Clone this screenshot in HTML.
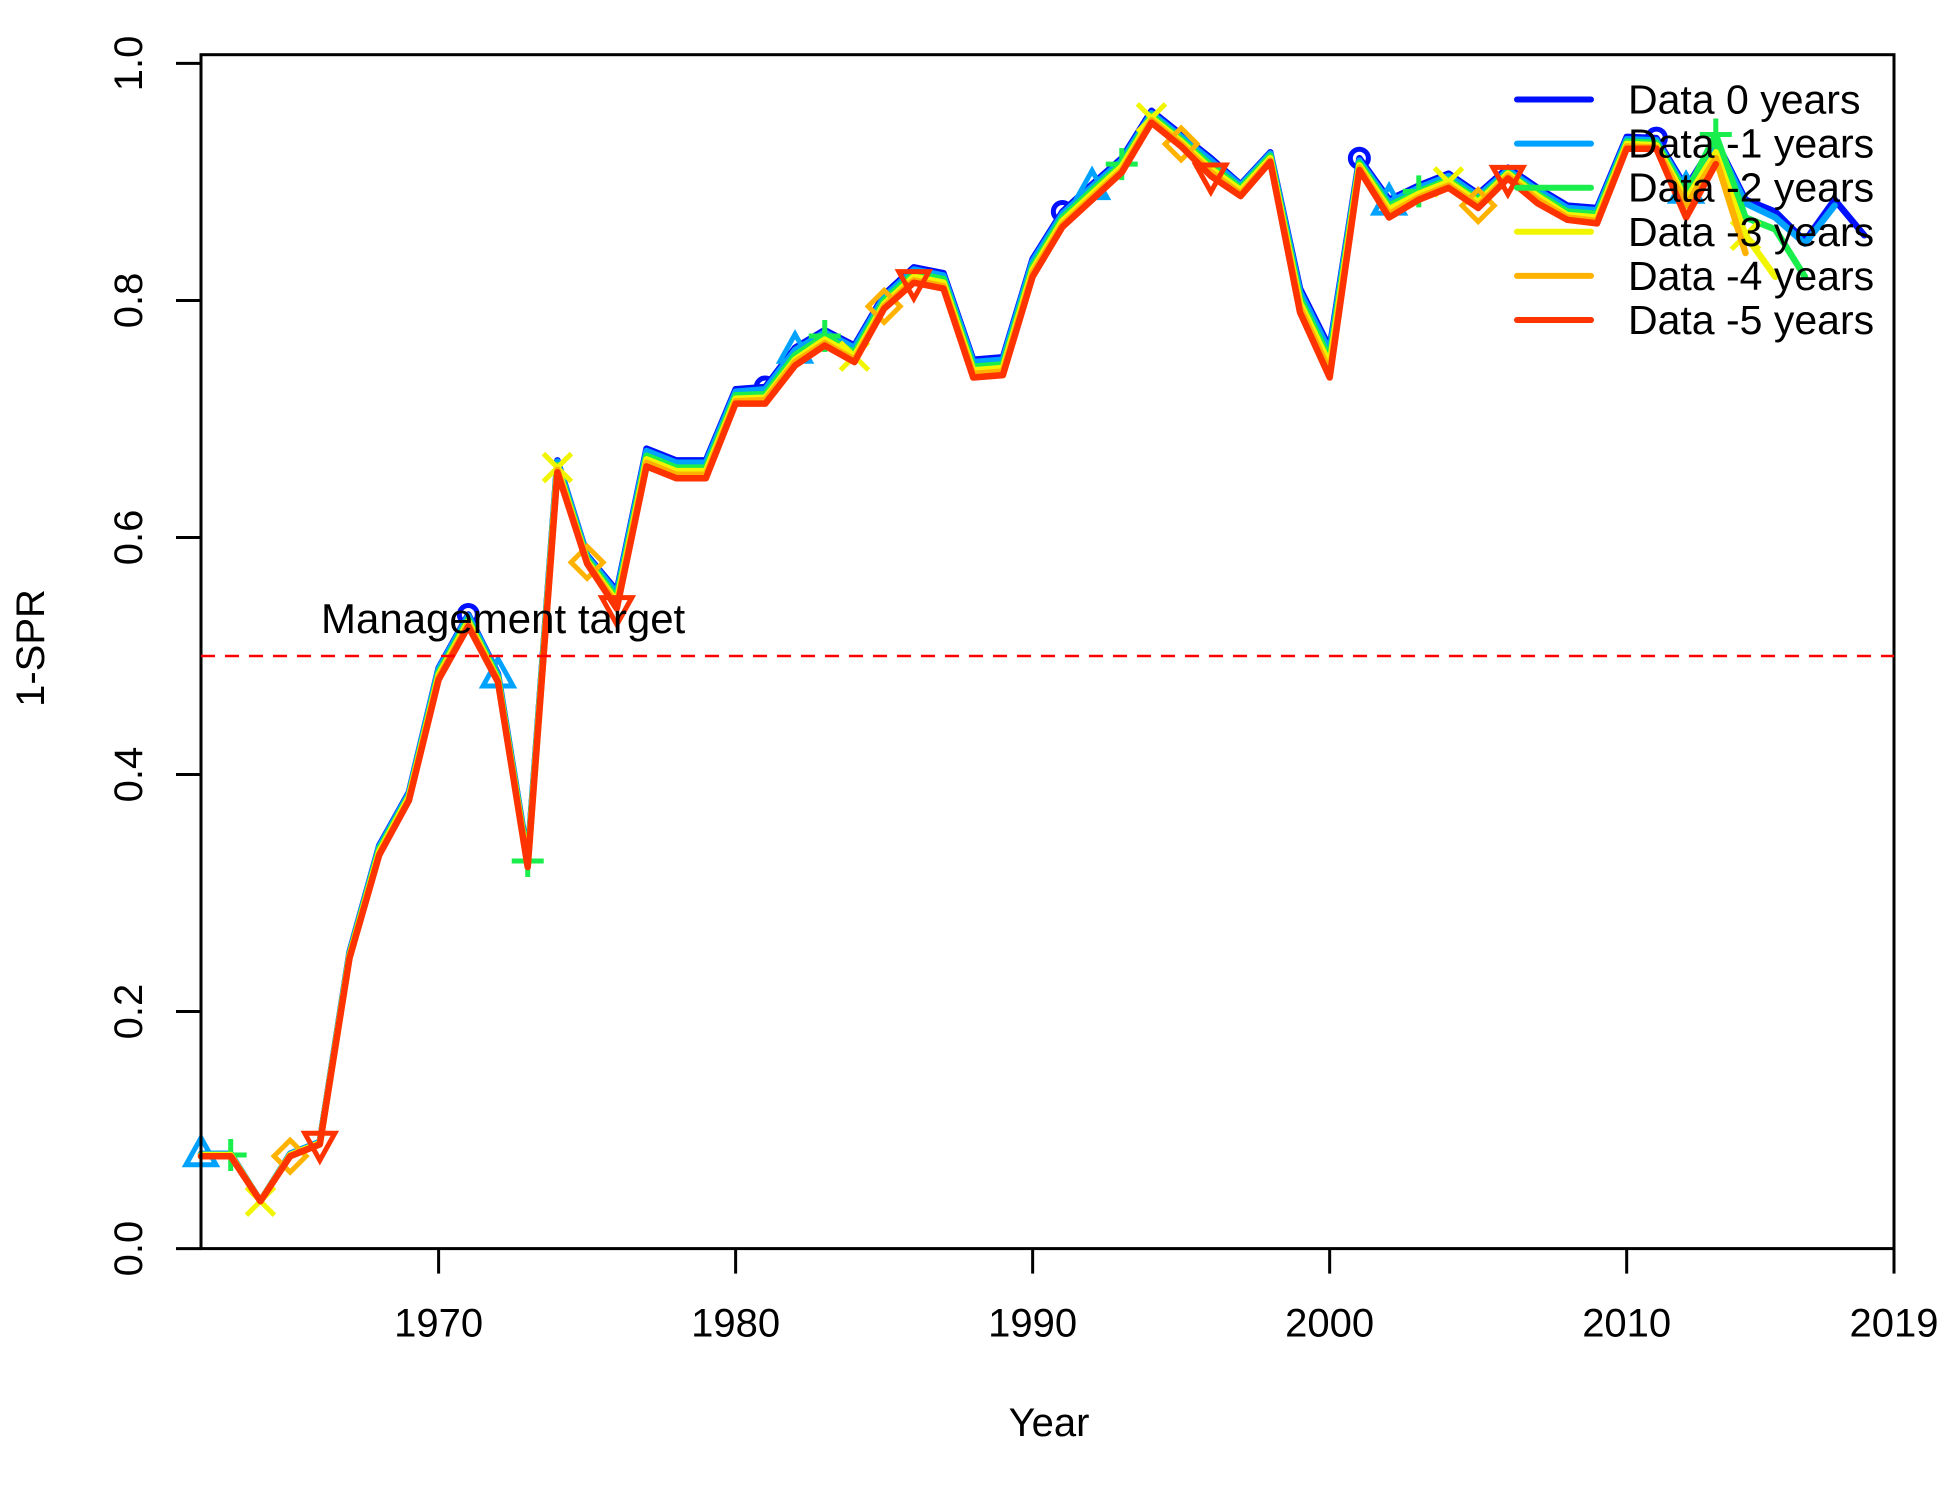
<!DOCTYPE html>
<html><head><meta charset="utf-8"><style>
body{margin:0;background:#fff}
svg text{font-family:"Liberation Sans",sans-serif;fill:#000}
</style></head><body>
<svg id="chart" width="1950" height="1500" viewBox="0 0 1950 1500" xmlns="http://www.w3.org/2000/svg">
<rect x="0" y="0" width="1950" height="1500" fill="#fff"/>
<g id="series"></g>
<rect x="201" y="54.7" width="1693" height="1193.9" fill="none" stroke="#000" stroke-width="3"/>
<g id="axes"></g>
<text x="1049" y="1436" font-size="40" text-anchor="middle">Year</text>
<text transform="translate(44,648) rotate(-90)" font-size="40" text-anchor="middle">1-SPR</text>
<g id="legend"></g>
</svg>
<script>
const startYear = 1962;
const seriesNames = ["Data 0 years","Data -1 years","Data -2 years","Data -3 years","Data -4 years","Data -5 years"];
const seriesColors = ["#0010ff","#00a2ff","#19ee4d","#f2f500","#ffb300","#ff3300"];
const markerTypes = ["circle","triangle","plus","cross","diamond","downtriangle"];
const markerStart = [1971,1962,1963,1964,1965,1966];
const xTicks = [1970,1980,1990,2000,2010,2019];
const yTicks = [0,0.2,0.4,0.6,0.8,1.0];
const yTickLabels = ["0.0","0.2","0.4","0.6","0.8","1.0"];
const targetValue = 0.5;

const data0 = [.080,.080,.040,.080,.090,.250,.340,.385,
 .490,.535,.485,.330,.665,.585,.555,.675,.665,.665,
 .725,.727,.760,.775,.762,.805,.828,.823,.750,.752,
 .835,.875,.898,.920,.960,.940,.920,.898,.925,.810,
 .760,.920,.885,.897,.907,.890,.912,.895,.880,.878,
 .938,.937,.895,.935,.885,.875,.850,.885,.855];
const data1 = [.080,.080,.040,.080,.090,.249,.339,.384,
 .489,.534,.484,.329,.664,.584,.553,.673,.663,.663,
 .723,.725,.758,.773,.760,.803,.826,.821,.748,.750,
 .833,.873,.896,.918,.958,.938,.918,.897,.924,.807,
 .757,.918,.883,.895,.905,.888,.910,.893,.878,.876,
 .936,.935,.893,.934,.882,.870,.848,.880];
const data2 = [.079,.079,.040,.079,.089,.248,.337,.382,
 .486,.531,.482,.327,.661,.582,.549,.669,.659,.659,
 .720,.721,.754,.770,.756,.800,.823,.818,.744,.746,
 .829,.870,.893,.915,.956,.936,.914,.895,.922,.802,
 .751,.916,.880,.892,.902,.885,.908,.890,.875,.873,
 .934,.933,.890,.940,.870,.860,.820];
const data3 = [.079,.079,.040,.079,.089,.247,.335,.381,
 .484,.529,.480,.325,.659,.580,.546,.666,.656,.656,
 .717,.718,.750,.767,.753,.797,.820,.815,.741,.743,
 .826,.867,.890,.913,.954,.934,.911,.893,.920,.798,
 .746,.914,.877,.890,.900,.883,.907,.888,.872,.870,
 .932,.931,.885,.925,.855,.820];
const data4 = [.078,.078,.040,.078,.088,.246,.333,.379,
 .482,.527,.479,.323,.657,.579,.543,.663,.653,.653,
 .715,.716,.748,.764,.750,.795,.817,.812,.738,.740,
 .823,.864,.887,.910,.952,.932,.908,.890,.918,.794,
 .740,.912,.873,.887,.897,.880,.905,.885,.870,.867,
 .930,.929,.880,.920,.840];
const data5 = [.078,.078,.040,.078,.088,.245,.332,.378,
 .480,.525,.478,.322,.655,.578,.540,.660,.650,.650,
 .713,.713,.745,.762,.748,.793,.815,.810,.735,.737,
 .820,.862,.885,.908,.950,.930,.905,.888,.917,.790,
 .735,.910,.870,.885,.895,.878,.903,.882,.868,.865,
 .928,.928,.870,.915];
const allSeries = [data0,data1,data2,data3,data4,data5];

const NS = "http://www.w3.org/2000/svg";
const X0 = 201, X1 = 1894, Y0 = 1248.6, Y1v = 63.4;
function xs(yr){ return X0 + (yr - 1962) / (2019 - 1962) * (X1 - X0); }
function ys(v){ return Y0 - v * (Y0 - Y1v); }
function mk(tag, attrs, parent){ const e = document.createElementNS(NS, tag); for (const k in attrs) e.setAttribute(k, attrs[k]); parent.appendChild(e); return e; }

const axes = document.getElementById('axes');
xTicks.forEach((t) => {
  const tk = mk('line', {x1: xs(t), x2: xs(t), y1: Y0, y2: Y0 + 25, stroke: '#000', 'stroke-width': 3}, axes);
  
  
  const lb = mk('text', {x: xs(t), y: Y0 + 88, 'font-size': 40, 'text-anchor': 'middle'}, axes);
  lb.textContent = t;
  
  
});
yTicks.forEach((t, i) => {
  const tk = mk('line', {x1: X0 - 25, x2: X0, y1: ys(t), y2: ys(t), stroke: '#000', 'stroke-width': 3}, axes);
  
  
  const lb = mk('text', {transform: `translate(142,${ys(t)}) rotate(-90)`, 'font-size': 40, 'text-anchor': 'middle'}, axes);
  lb.textContent = yTickLabels[i];
  
  
});
const tl = mk('line', {x1: X0, x2: X1, y1: ys(targetValue), y2: ys(targetValue), stroke: '#ff0000', 'stroke-width': 2.5, 'stroke-dasharray': '14 10'}, axes);


const tt = mk('text', {x: 321, y: 633, 'font-size': 42}, axes);
tt.textContent = 'Management target';



function marker(type, cx, cy, color, parent){
  const s = 14, a = {fill: 'none', stroke: color, 'stroke-width': 5};
  let e;
  if (type === 'circle') e = mk('circle', Object.assign({cx, cy, r: 9}, a), parent);
  else if (type === 'triangle') e = mk('polygon', Object.assign({points: `${cx},${cy-s-2} ${cx-s-1},${cy+s-3} ${cx+s+1},${cy+s-3}`}, a), parent);
  else if (type === 'downtriangle') e = mk('polygon', Object.assign({points: `${cx},${cy+s+2} ${cx-s-1},${cy-s+3} ${cx+s+1},${cy-s+3}`}, a), parent);
  else if (type === 'diamond') e = mk('polygon', Object.assign({points: `${cx},${cy-s-2} ${cx+s+2},${cy} ${cx},${cy+s+2} ${cx-s-2},${cy}`}, a), parent);
  else if (type === 'plus') e = mk('path', Object.assign({d: `M${cx-s-2},${cy}H${cx+s+2}M${cx},${cy-s-2}V${cy+s+2}`}, a), parent);
  else e = mk('path', Object.assign({d: `M${cx-s},${cy-s}L${cx+s},${cy+s}M${cx-s},${cy+s}L${cx+s},${cy-s}`}, a), parent);
  return e;
}

const sg = document.getElementById('series');
allSeries.forEach((arr, si) => {
  const g = mk('g', {}, sg);
  
  
  const pts = arr.map((v, i) => `${xs(startYear + i).toFixed(1)},${ys(v).toFixed(1)}`).join(' ');
  const pl = mk('polyline', {points: pts, fill: 'none', stroke: seriesColors[si], 'stroke-width': 6.5, 'stroke-linejoin': 'round', 'stroke-linecap': 'round'}, g);
  
  
  arr.forEach((v, i) => {
    const yr = startYear + i;
    if ((yr - markerStart[si]) % 10 === 0) {
      const m = marker(markerTypes[si], xs(yr), ys(v), seriesColors[si], g);
      
      
    }
  });
});

const lg = document.getElementById('legend');
seriesNames.forEach((n, i) => {
  const y = 99.5 + i * 44.1;
  const l = mk('line', {x1: 1517, x2: 1591, y1: y, y2: y, stroke: seriesColors[i], 'stroke-width': 6, 'stroke-linecap': 'round'}, lg);
  
  
  const t = mk('text', {x: 1628, y: y + 14, 'font-size': 41}, lg);
  t.textContent = n;
  
  
});
</script>
</body></html>
